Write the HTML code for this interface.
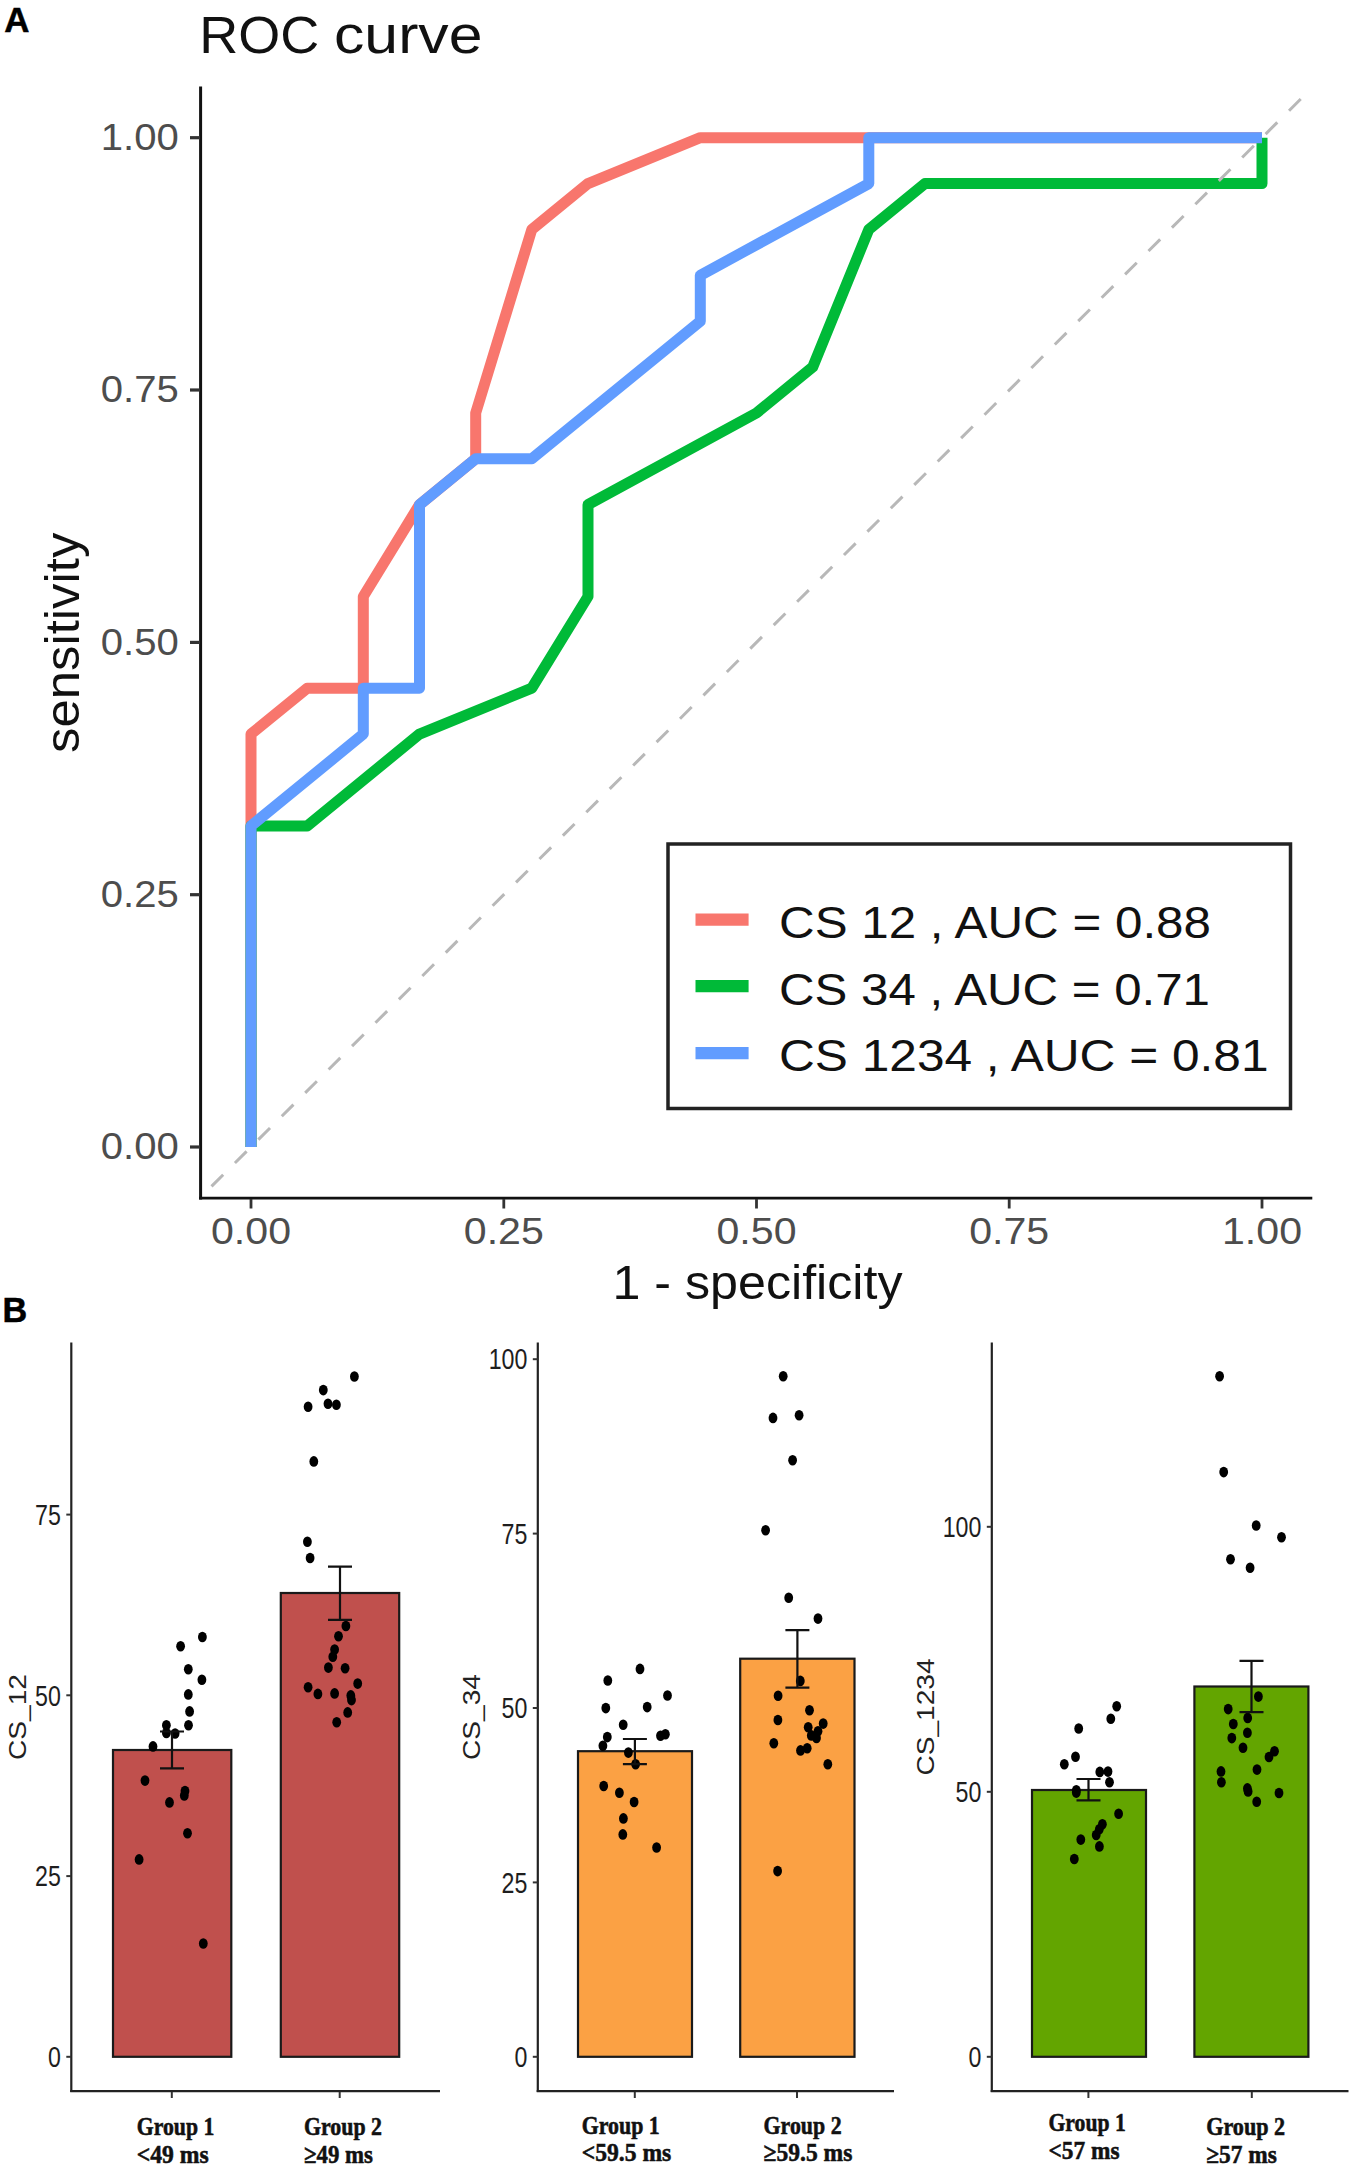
<!DOCTYPE html><html><head><meta charset="utf-8"><style>html,body{margin:0;padding:0;background:#fff;font-family:"Liberation Sans", sans-serif;overflow:hidden;}svg{display:block;}</style></head><body>
<svg width="1360" height="2169" viewBox="0 0 1360 2169">
<rect x="0" y="0" width="1360" height="2169" fill="#fff"/>
<text x="4.3" y="32.3" font-family="Liberation Sans, sans-serif" font-weight="bold" font-size="35" stroke="#000" stroke-width="0.5" textLength="25.2" lengthAdjust="spacingAndGlyphs">A</text>
<text x="199.3" y="53.3" font-family="Liberation Sans, sans-serif" font-size="51" fill="#111" textLength="120" lengthAdjust="spacingAndGlyphs">ROC</text>
<text x="334" y="53.3" font-family="Liberation Sans, sans-serif" font-size="51" fill="#111" textLength="148.5" lengthAdjust="spacingAndGlyphs">curve</text>
<path d="M251.0,1147.0 L251.0,825.9 L251.0,734.1 L307.2,688.2 L363.3,688.2 L363.3,596.5 L419.5,504.7 L475.7,458.8 L475.7,413.0 L531.8,229.5 L588.0,183.6 L700.3,137.7 L1262.0,137.7" fill="none" stroke="#F8766D" stroke-width="11" stroke-linejoin="round" stroke-linecap="butt"/>
<path d="M251.0,1147.0 L251.0,825.9 L307.2,825.9 L419.5,734.1 L531.8,688.2 L588.0,596.5 L588.0,504.7 L756.5,413.0 L812.7,367.1 L868.8,229.5 L925.0,183.6 L1262.0,183.6 L1262.0,137.7" fill="none" stroke="#00BA38" stroke-width="11" stroke-linejoin="round" stroke-linecap="butt"/>
<path d="M251.0,1147.0 L251.0,825.9 L363.3,734.1 L363.3,688.2 L419.5,688.2 L419.5,504.7 L475.7,458.8 L531.8,458.8 L700.3,321.2 L700.3,275.3 L868.8,183.6 L868.8,137.7 L1262.0,137.7" fill="none" stroke="#619CFF" stroke-width="11" stroke-linejoin="round" stroke-linecap="butt"/>
<line x1="211.5" y1="1186.43" x2="1310" y2="89.78" stroke="#b8b8b8" stroke-width="3" stroke-dasharray="16.5 16.6"/>
<line x1="200.6" y1="86.5" x2="200.6" y2="1199.6" stroke="#111" stroke-width="3"/>
<line x1="199.1" y1="1198.2" x2="1312.3" y2="1198.2" stroke="#111" stroke-width="2.8"/>
<line x1="190" y1="137.7" x2="200" y2="137.7" stroke="#333" stroke-width="3.2"/>
<text x="178.8" y="150.0" font-family="Liberation Sans, sans-serif" font-size="36.5" fill="#4d4d4d" text-anchor="end" textLength="78" lengthAdjust="spacingAndGlyphs">1.00</text>
<line x1="190" y1="390.0" x2="200" y2="390.0" stroke="#333" stroke-width="3.2"/>
<text x="178.8" y="402.3" font-family="Liberation Sans, sans-serif" font-size="36.5" fill="#4d4d4d" text-anchor="end" textLength="78" lengthAdjust="spacingAndGlyphs">0.75</text>
<line x1="190" y1="642.4" x2="200" y2="642.4" stroke="#333" stroke-width="3.2"/>
<text x="178.8" y="654.6" font-family="Liberation Sans, sans-serif" font-size="36.5" fill="#4d4d4d" text-anchor="end" textLength="78" lengthAdjust="spacingAndGlyphs">0.50</text>
<line x1="190" y1="894.7" x2="200" y2="894.7" stroke="#333" stroke-width="3.2"/>
<text x="178.8" y="907.0" font-family="Liberation Sans, sans-serif" font-size="36.5" fill="#4d4d4d" text-anchor="end" textLength="78" lengthAdjust="spacingAndGlyphs">0.25</text>
<line x1="190" y1="1147.0" x2="200" y2="1147.0" stroke="#333" stroke-width="3.2"/>
<text x="178.8" y="1159.3" font-family="Liberation Sans, sans-serif" font-size="36.5" fill="#4d4d4d" text-anchor="end" textLength="78" lengthAdjust="spacingAndGlyphs">0.00</text>
<line x1="251.0" y1="1199" x2="251.0" y2="1208.5" stroke="#333" stroke-width="2.8"/>
<text x="211.0" y="1243.6" font-family="Liberation Sans, sans-serif" font-size="36.5" fill="#4d4d4d" textLength="80" lengthAdjust="spacingAndGlyphs">0.00</text>
<line x1="503.8" y1="1199" x2="503.8" y2="1208.5" stroke="#333" stroke-width="2.8"/>
<text x="463.8" y="1243.6" font-family="Liberation Sans, sans-serif" font-size="36.5" fill="#4d4d4d" textLength="80" lengthAdjust="spacingAndGlyphs">0.25</text>
<line x1="756.5" y1="1199" x2="756.5" y2="1208.5" stroke="#333" stroke-width="2.8"/>
<text x="716.5" y="1243.6" font-family="Liberation Sans, sans-serif" font-size="36.5" fill="#4d4d4d" textLength="80" lengthAdjust="spacingAndGlyphs">0.50</text>
<line x1="1009.2" y1="1199" x2="1009.2" y2="1208.5" stroke="#333" stroke-width="2.8"/>
<text x="969.2" y="1243.6" font-family="Liberation Sans, sans-serif" font-size="36.5" fill="#4d4d4d" textLength="80" lengthAdjust="spacingAndGlyphs">0.75</text>
<line x1="1262.0" y1="1199" x2="1262.0" y2="1208.5" stroke="#333" stroke-width="2.8"/>
<text x="1222.0" y="1243.6" font-family="Liberation Sans, sans-serif" font-size="36.5" fill="#4d4d4d" textLength="80" lengthAdjust="spacingAndGlyphs">1.00</text>
<text x="612.5" y="1299" font-family="Liberation Sans, sans-serif" font-size="49" fill="#111" textLength="290" lengthAdjust="spacingAndGlyphs">1 - specificity</text>
<text transform="translate(78.5,752.9) rotate(-90)" x="0" y="0" font-family="Liberation Sans, sans-serif" font-size="49" fill="#111" textLength="220.2" lengthAdjust="spacingAndGlyphs">sensitivity</text>
<rect x="668" y="844" width="622.5" height="264.5" fill="#fff" stroke="#222" stroke-width="3.5"/>
<line x1="695.5" y1="919.6" x2="748.6" y2="919.6" stroke="#F8766D" stroke-width="12.2"/>
<text x="779" y="938.2" font-family="Liberation Sans, sans-serif" font-size="44" fill="#111" textLength="432" lengthAdjust="spacingAndGlyphs">CS 12 , AUC = 0.88</text>
<line x1="695.5" y1="986.2" x2="748.6" y2="986.2" stroke="#00BA38" stroke-width="12.2"/>
<text x="779" y="1004.8" font-family="Liberation Sans, sans-serif" font-size="44" fill="#111" textLength="431" lengthAdjust="spacingAndGlyphs">CS 34 , AUC = 0.71</text>
<line x1="695.5" y1="1053.1" x2="748.6" y2="1053.1" stroke="#619CFF" stroke-width="12.2"/>
<text x="779" y="1071.2" font-family="Liberation Sans, sans-serif" font-size="44" fill="#111" textLength="489.5" lengthAdjust="spacingAndGlyphs">CS 1234 , AUC = 0.81</text>
<text x="2.6" y="1322.2" font-family="Liberation Sans, sans-serif" font-weight="bold" font-size="34.2" stroke="#000" stroke-width="0.5">B</text>
<line x1="71.3" y1="1342.5" x2="71.3" y2="2092" stroke="#222" stroke-width="2.2"/>
<line x1="70.2" y1="2091.2" x2="440" y2="2091.2" stroke="#222" stroke-width="2.2"/>
<line x1="66.3" y1="2056.8" x2="71.3" y2="2056.8" stroke="#333" stroke-width="2"/>
<text x="60.9" y="2067.0" font-family="Liberation Sans, sans-serif" font-size="29" fill="#1e1e1e" text-anchor="end" textLength="12.9" lengthAdjust="spacingAndGlyphs">0</text>
<line x1="66.3" y1="1876.1" x2="71.3" y2="1876.1" stroke="#333" stroke-width="2"/>
<text x="60.9" y="1886.3" font-family="Liberation Sans, sans-serif" font-size="29" fill="#1e1e1e" text-anchor="end" textLength="25.8" lengthAdjust="spacingAndGlyphs">25</text>
<line x1="66.3" y1="1695.3" x2="71.3" y2="1695.3" stroke="#333" stroke-width="2"/>
<text x="60.9" y="1705.5" font-family="Liberation Sans, sans-serif" font-size="29" fill="#1e1e1e" text-anchor="end" textLength="25.8" lengthAdjust="spacingAndGlyphs">50</text>
<line x1="66.3" y1="1514.6" x2="71.3" y2="1514.6" stroke="#333" stroke-width="2"/>
<text x="60.9" y="1524.8" font-family="Liberation Sans, sans-serif" font-size="29" fill="#1e1e1e" text-anchor="end" textLength="25.8" lengthAdjust="spacingAndGlyphs">75</text>
<text transform="translate(26.4,1717) scale(0.83,1) rotate(-90)" x="0" y="0" font-family="Liberation Sans, sans-serif" font-size="28.1" fill="#222" text-anchor="middle">CS_12</text>
<rect x="113" y="1750" width="118.30000000000001" height="306.8000000000002" fill="#C0504D" stroke="#1a1a1a" stroke-width="2.2"/>
<rect x="280.8" y="1593" width="118.39999999999998" height="463.8000000000002" fill="#C0504D" stroke="#1a1a1a" stroke-width="2.2"/>
<ellipse cx="202.4" cy="1637" rx="4.4" ry="5.3" fill="#000"/>
<ellipse cx="180.6" cy="1646.2" rx="4.4" ry="5.3" fill="#000"/>
<ellipse cx="188.3" cy="1669.2" rx="4.4" ry="5.3" fill="#000"/>
<ellipse cx="201.9" cy="1679.8" rx="4.4" ry="5.3" fill="#000"/>
<ellipse cx="188.3" cy="1694.4" rx="4.4" ry="5.3" fill="#000"/>
<ellipse cx="189.6" cy="1711.4" rx="4.4" ry="5.3" fill="#000"/>
<ellipse cx="188.5" cy="1725.3" rx="4.4" ry="5.3" fill="#000"/>
<ellipse cx="166.4" cy="1725.3" rx="4.4" ry="5.3" fill="#000"/>
<ellipse cx="166.4" cy="1733" rx="4.4" ry="5.3" fill="#000"/>
<ellipse cx="175.1" cy="1733.5" rx="4.4" ry="5.3" fill="#000"/>
<ellipse cx="153" cy="1746.4" rx="4.4" ry="5.3" fill="#000"/>
<ellipse cx="145" cy="1780.6" rx="4.4" ry="5.3" fill="#000"/>
<ellipse cx="185" cy="1791" rx="4.4" ry="5.3" fill="#000"/>
<ellipse cx="184.3" cy="1795.5" rx="4.4" ry="5.3" fill="#000"/>
<ellipse cx="169.5" cy="1802.4" rx="4.4" ry="5.3" fill="#000"/>
<ellipse cx="187.5" cy="1833.3" rx="4.4" ry="5.3" fill="#000"/>
<ellipse cx="139.1" cy="1859.4" rx="4.4" ry="5.3" fill="#000"/>
<ellipse cx="203.3" cy="1943.5" rx="4.4" ry="5.3" fill="#000"/>
<ellipse cx="354.4" cy="1376.5" rx="4.4" ry="5.3" fill="#000"/>
<ellipse cx="323.3" cy="1390.1" rx="4.4" ry="5.3" fill="#000"/>
<ellipse cx="308.1" cy="1406.8" rx="4.4" ry="5.3" fill="#000"/>
<ellipse cx="328" cy="1403.8" rx="4.4" ry="5.3" fill="#000"/>
<ellipse cx="336.4" cy="1404.8" rx="4.4" ry="5.3" fill="#000"/>
<ellipse cx="313.8" cy="1461.4" rx="4.4" ry="5.3" fill="#000"/>
<ellipse cx="307.4" cy="1541.7" rx="4.4" ry="5.3" fill="#000"/>
<ellipse cx="310.1" cy="1558" rx="4.4" ry="5.3" fill="#000"/>
<ellipse cx="345.9" cy="1626" rx="4.4" ry="5.3" fill="#000"/>
<ellipse cx="338.5" cy="1636.3" rx="4.4" ry="5.3" fill="#000"/>
<ellipse cx="334.6" cy="1649.6" rx="4.4" ry="5.3" fill="#000"/>
<ellipse cx="332.8" cy="1656.8" rx="4.4" ry="5.3" fill="#000"/>
<ellipse cx="328.4" cy="1667.6" rx="4.4" ry="5.3" fill="#000"/>
<ellipse cx="345.1" cy="1668.2" rx="4.4" ry="5.3" fill="#000"/>
<ellipse cx="357.7" cy="1683.6" rx="4.4" ry="5.3" fill="#000"/>
<ellipse cx="308.1" cy="1687.2" rx="4.4" ry="5.3" fill="#000"/>
<ellipse cx="317.9" cy="1693.9" rx="4.4" ry="5.3" fill="#000"/>
<ellipse cx="334.6" cy="1693.4" rx="4.4" ry="5.3" fill="#000"/>
<ellipse cx="350.8" cy="1695.4" rx="4.4" ry="5.3" fill="#000"/>
<ellipse cx="351.5" cy="1700.1" rx="4.4" ry="5.3" fill="#000"/>
<ellipse cx="347.7" cy="1712.4" rx="4.4" ry="5.3" fill="#000"/>
<ellipse cx="336.7" cy="1722.2" rx="4.4" ry="5.3" fill="#000"/>
<path d="M160,1731.5 H184 M172,1731.5 V1768.3 M160,1768.3 H184" stroke="#111" stroke-width="2.2" fill="none"/>
<path d="M328,1566.6 H352 M340,1566.6 V1619.8 M328,1619.8 H352" stroke="#111" stroke-width="2.2" fill="none"/>
<line x1="171.8" y1="2092" x2="171.8" y2="2098" stroke="#333" stroke-width="2"/>
<text x="136.8" y="2135.1" font-family="Liberation Serif, serif" font-weight="bold" font-size="25.5" fill="#111" stroke="#111" stroke-width="0.55" textLength="77.5" lengthAdjust="spacingAndGlyphs">Group 1</text>
<text x="136.8" y="2163.3" font-family="Liberation Serif, serif" font-weight="bold" font-size="25.5" fill="#111" stroke="#111" stroke-width="0.55" textLength="72" lengthAdjust="spacingAndGlyphs">&lt;49 ms</text>
<line x1="339.7" y1="2092" x2="339.7" y2="2098" stroke="#333" stroke-width="2"/>
<text x="304" y="2135.2" font-family="Liberation Serif, serif" font-weight="bold" font-size="25.5" fill="#111" stroke="#111" stroke-width="0.55" textLength="78" lengthAdjust="spacingAndGlyphs">Group 2</text>
<text x="304" y="2162.8" font-family="Liberation Serif, serif" font-weight="bold" font-size="25.5" fill="#111" stroke="#111" stroke-width="0.55" textLength="69" lengthAdjust="spacingAndGlyphs">≥49 ms</text>
<line x1="537.8" y1="1342.5" x2="537.8" y2="2092" stroke="#222" stroke-width="2.2"/>
<line x1="536.6999999999999" y1="2091.2" x2="894" y2="2091.2" stroke="#222" stroke-width="2.2"/>
<line x1="532.8" y1="2056.8" x2="537.8" y2="2056.8" stroke="#333" stroke-width="2"/>
<text x="527.4" y="2067.0" font-family="Liberation Sans, sans-serif" font-size="29" fill="#1e1e1e" text-anchor="end" textLength="12.9" lengthAdjust="spacingAndGlyphs">0</text>
<line x1="532.8" y1="1882.4" x2="537.8" y2="1882.4" stroke="#333" stroke-width="2"/>
<text x="527.4" y="1892.6" font-family="Liberation Sans, sans-serif" font-size="29" fill="#1e1e1e" text-anchor="end" textLength="25.8" lengthAdjust="spacingAndGlyphs">25</text>
<line x1="532.8" y1="1708.0" x2="537.8" y2="1708.0" stroke="#333" stroke-width="2"/>
<text x="527.4" y="1718.2" font-family="Liberation Sans, sans-serif" font-size="29" fill="#1e1e1e" text-anchor="end" textLength="25.8" lengthAdjust="spacingAndGlyphs">50</text>
<line x1="532.8" y1="1533.6" x2="537.8" y2="1533.6" stroke="#333" stroke-width="2"/>
<text x="527.4" y="1543.8" font-family="Liberation Sans, sans-serif" font-size="29" fill="#1e1e1e" text-anchor="end" textLength="25.8" lengthAdjust="spacingAndGlyphs">75</text>
<line x1="532.8" y1="1359.2" x2="537.8" y2="1359.2" stroke="#333" stroke-width="2"/>
<text x="527.4" y="1369.4" font-family="Liberation Sans, sans-serif" font-size="29" fill="#1e1e1e" text-anchor="end" textLength="38.7" lengthAdjust="spacingAndGlyphs">100</text>
<text transform="translate(479.5,1717) scale(0.83,1) rotate(-90)" x="0" y="0" font-family="Liberation Sans, sans-serif" font-size="28.1" fill="#222" text-anchor="middle">CS_34</text>
<rect x="578" y="1751.2" width="114" height="305.60000000000014" fill="#FBA144" stroke="#1a1a1a" stroke-width="2.2"/>
<rect x="740.2" y="1658.7" width="114.29999999999995" height="398.10000000000014" fill="#FBA144" stroke="#1a1a1a" stroke-width="2.2"/>
<ellipse cx="640" cy="1668.9" rx="4.4" ry="5.3" fill="#000"/>
<ellipse cx="607.8" cy="1680.5" rx="4.4" ry="5.3" fill="#000"/>
<ellipse cx="667.5" cy="1695.5" rx="4.4" ry="5.3" fill="#000"/>
<ellipse cx="605.8" cy="1708.1" rx="4.4" ry="5.3" fill="#000"/>
<ellipse cx="647.2" cy="1707.1" rx="4.4" ry="5.3" fill="#000"/>
<ellipse cx="623.2" cy="1724.7" rx="4.4" ry="5.3" fill="#000"/>
<ellipse cx="607.3" cy="1737.1" rx="4.4" ry="5.3" fill="#000"/>
<ellipse cx="602.9" cy="1745.8" rx="4.4" ry="5.3" fill="#000"/>
<ellipse cx="660.5" cy="1735.7" rx="4.4" ry="5.3" fill="#000"/>
<ellipse cx="665.4" cy="1734.2" rx="4.4" ry="5.3" fill="#000"/>
<ellipse cx="628.4" cy="1752.6" rx="4.4" ry="5.3" fill="#000"/>
<ellipse cx="635.6" cy="1764.2" rx="4.4" ry="5.3" fill="#000"/>
<ellipse cx="603.7" cy="1786" rx="4.4" ry="5.3" fill="#000"/>
<ellipse cx="619.4" cy="1792.8" rx="4.4" ry="5.3" fill="#000"/>
<ellipse cx="634.1" cy="1802" rx="4.4" ry="5.3" fill="#000"/>
<ellipse cx="623.4" cy="1818.4" rx="4.4" ry="5.3" fill="#000"/>
<ellipse cx="622.8" cy="1834.4" rx="4.4" ry="5.3" fill="#000"/>
<ellipse cx="656.6" cy="1847.5" rx="4.4" ry="5.3" fill="#000"/>
<ellipse cx="783.2" cy="1376.3" rx="4.4" ry="5.3" fill="#000"/>
<ellipse cx="773" cy="1417.9" rx="4.4" ry="5.3" fill="#000"/>
<ellipse cx="799.1" cy="1415.2" rx="4.4" ry="5.3" fill="#000"/>
<ellipse cx="792.6" cy="1460.2" rx="4.4" ry="5.3" fill="#000"/>
<ellipse cx="765.6" cy="1530.2" rx="4.4" ry="5.3" fill="#000"/>
<ellipse cx="788.7" cy="1597.7" rx="4.4" ry="5.3" fill="#000"/>
<ellipse cx="818" cy="1618.6" rx="4.4" ry="5.3" fill="#000"/>
<ellipse cx="800.3" cy="1680.9" rx="4.4" ry="5.3" fill="#000"/>
<ellipse cx="778.1" cy="1695.8" rx="4.4" ry="5.3" fill="#000"/>
<ellipse cx="809.5" cy="1710.2" rx="4.4" ry="5.3" fill="#000"/>
<ellipse cx="777.9" cy="1720" rx="4.4" ry="5.3" fill="#000"/>
<ellipse cx="823.2" cy="1723.6" rx="4.4" ry="5.3" fill="#000"/>
<ellipse cx="808.2" cy="1727.2" rx="4.4" ry="5.3" fill="#000"/>
<ellipse cx="818" cy="1731.3" rx="4.4" ry="5.3" fill="#000"/>
<ellipse cx="811.3" cy="1735.4" rx="4.4" ry="5.3" fill="#000"/>
<ellipse cx="816.5" cy="1738" rx="4.4" ry="5.3" fill="#000"/>
<ellipse cx="773.8" cy="1743.2" rx="4.4" ry="5.3" fill="#000"/>
<ellipse cx="800.5" cy="1750.4" rx="4.4" ry="5.3" fill="#000"/>
<ellipse cx="807.2" cy="1748.3" rx="4.4" ry="5.3" fill="#000"/>
<ellipse cx="827.8" cy="1764.3" rx="4.4" ry="5.3" fill="#000"/>
<ellipse cx="777.6" cy="1871.1" rx="4.4" ry="5.3" fill="#000"/>
<path d="M622.9,1739 H646.9 M634.9,1739 V1764.2 M622.9,1764.2 H646.9" stroke="#111" stroke-width="2.2" fill="none"/>
<path d="M785.4,1630.2 H809.4 M797.4,1630.2 V1687.7 M785.4,1687.7 H809.4" stroke="#111" stroke-width="2.2" fill="none"/>
<line x1="634.8" y1="2092" x2="634.8" y2="2098" stroke="#333" stroke-width="2"/>
<text x="581.8" y="2133.5" font-family="Liberation Serif, serif" font-weight="bold" font-size="25.5" fill="#111" stroke="#111" stroke-width="0.55" textLength="78" lengthAdjust="spacingAndGlyphs">Group 1</text>
<text x="581.8" y="2160.8" font-family="Liberation Serif, serif" font-weight="bold" font-size="25.5" fill="#111" stroke="#111" stroke-width="0.55" textLength="89.5" lengthAdjust="spacingAndGlyphs">&lt;59.5 ms</text>
<line x1="797" y1="2092" x2="797" y2="2098" stroke="#333" stroke-width="2"/>
<text x="763.6" y="2133.7" font-family="Liberation Serif, serif" font-weight="bold" font-size="25.5" fill="#111" stroke="#111" stroke-width="0.55" textLength="78" lengthAdjust="spacingAndGlyphs">Group 2</text>
<text x="763.6" y="2161" font-family="Liberation Serif, serif" font-weight="bold" font-size="25.5" fill="#111" stroke="#111" stroke-width="0.55" textLength="88.8" lengthAdjust="spacingAndGlyphs">≥59.5 ms</text>
<line x1="991.8" y1="1342.5" x2="991.8" y2="2092" stroke="#222" stroke-width="2.2"/>
<line x1="990.6999999999999" y1="2091.2" x2="1348.5" y2="2091.2" stroke="#222" stroke-width="2.2"/>
<line x1="986.8" y1="2056.8" x2="991.8" y2="2056.8" stroke="#333" stroke-width="2"/>
<text x="981.4" y="2067.0" font-family="Liberation Sans, sans-serif" font-size="29" fill="#1e1e1e" text-anchor="end" textLength="12.9" lengthAdjust="spacingAndGlyphs">0</text>
<line x1="986.8" y1="1791.8" x2="991.8" y2="1791.8" stroke="#333" stroke-width="2"/>
<text x="981.4" y="1802.0" font-family="Liberation Sans, sans-serif" font-size="29" fill="#1e1e1e" text-anchor="end" textLength="25.8" lengthAdjust="spacingAndGlyphs">50</text>
<line x1="986.8" y1="1526.8" x2="991.8" y2="1526.8" stroke="#333" stroke-width="2"/>
<text x="981.4" y="1537.0" font-family="Liberation Sans, sans-serif" font-size="29" fill="#1e1e1e" text-anchor="end" textLength="38.7" lengthAdjust="spacingAndGlyphs">100</text>
<text transform="translate(934.3,1717) scale(0.83,1) rotate(-90)" x="0" y="0" font-family="Liberation Sans, sans-serif" font-size="28.1" fill="#222" text-anchor="middle">CS_1234</text>
<rect x="1032" y="1790" width="114" height="266.8000000000002" fill="#63A500" stroke="#1a1a1a" stroke-width="2.2"/>
<rect x="1194.4" y="1686.5" width="114.0" height="370.3000000000002" fill="#63A500" stroke="#1a1a1a" stroke-width="2.2"/>
<ellipse cx="1116.7" cy="1706.2" rx="4.4" ry="5.3" fill="#000"/>
<ellipse cx="1110.8" cy="1718.8" rx="4.4" ry="5.3" fill="#000"/>
<ellipse cx="1078.7" cy="1728.5" rx="4.4" ry="5.3" fill="#000"/>
<ellipse cx="1075.5" cy="1756.7" rx="4.4" ry="5.3" fill="#000"/>
<ellipse cx="1064.3" cy="1764.2" rx="4.4" ry="5.3" fill="#000"/>
<ellipse cx="1099.8" cy="1771.9" rx="4.4" ry="5.3" fill="#000"/>
<ellipse cx="1108" cy="1771.6" rx="4.4" ry="5.3" fill="#000"/>
<ellipse cx="1109.5" cy="1782.3" rx="4.4" ry="5.3" fill="#000"/>
<ellipse cx="1076.3" cy="1790.2" rx="4.4" ry="5.3" fill="#000"/>
<ellipse cx="1076.3" cy="1792.6" rx="4.4" ry="5.3" fill="#000"/>
<ellipse cx="1118.6" cy="1813.7" rx="4.4" ry="5.3" fill="#000"/>
<ellipse cx="1102.4" cy="1824.3" rx="4.4" ry="5.3" fill="#000"/>
<ellipse cx="1099.3" cy="1829.3" rx="4.4" ry="5.3" fill="#000"/>
<ellipse cx="1096.2" cy="1835" rx="4.4" ry="5.3" fill="#000"/>
<ellipse cx="1080.8" cy="1839.6" rx="4.4" ry="5.3" fill="#000"/>
<ellipse cx="1099.4" cy="1846.4" rx="4.4" ry="5.3" fill="#000"/>
<ellipse cx="1074.3" cy="1859" rx="4.4" ry="5.3" fill="#000"/>
<ellipse cx="1219.6" cy="1376.3" rx="4.4" ry="5.3" fill="#000"/>
<ellipse cx="1223.7" cy="1472.1" rx="4.4" ry="5.3" fill="#000"/>
<ellipse cx="1256.2" cy="1525.5" rx="4.4" ry="5.3" fill="#000"/>
<ellipse cx="1281.5" cy="1537.3" rx="4.4" ry="5.3" fill="#000"/>
<ellipse cx="1230.5" cy="1559.3" rx="4.4" ry="5.3" fill="#000"/>
<ellipse cx="1250.1" cy="1567.8" rx="4.4" ry="5.3" fill="#000"/>
<ellipse cx="1258.4" cy="1696.6" rx="4.4" ry="5.3" fill="#000"/>
<ellipse cx="1228.2" cy="1709.1" rx="4.4" ry="5.3" fill="#000"/>
<ellipse cx="1247.7" cy="1717.9" rx="4.4" ry="5.3" fill="#000"/>
<ellipse cx="1233.3" cy="1724" rx="4.4" ry="5.3" fill="#000"/>
<ellipse cx="1247.4" cy="1732.8" rx="4.4" ry="5.3" fill="#000"/>
<ellipse cx="1231.8" cy="1738.1" rx="4.4" ry="5.3" fill="#000"/>
<ellipse cx="1243" cy="1747.7" rx="4.4" ry="5.3" fill="#000"/>
<ellipse cx="1274.5" cy="1751.3" rx="4.4" ry="5.3" fill="#000"/>
<ellipse cx="1269" cy="1757" rx="4.4" ry="5.3" fill="#000"/>
<ellipse cx="1221" cy="1771.4" rx="4.4" ry="5.3" fill="#000"/>
<ellipse cx="1257" cy="1769.6" rx="4.4" ry="5.3" fill="#000"/>
<ellipse cx="1221.4" cy="1782.2" rx="4.4" ry="5.3" fill="#000"/>
<ellipse cx="1247.4" cy="1788.4" rx="4.4" ry="5.3" fill="#000"/>
<ellipse cx="1248.1" cy="1791.5" rx="4.4" ry="5.3" fill="#000"/>
<ellipse cx="1279" cy="1793" rx="4.4" ry="5.3" fill="#000"/>
<ellipse cx="1256.7" cy="1801.8" rx="4.4" ry="5.3" fill="#000"/>
<path d="M1076.5,1779 H1100.5 M1088.5,1779 V1800.4 M1076.5,1800.4 H1100.5" stroke="#111" stroke-width="2.2" fill="none"/>
<path d="M1239.5,1660.8 H1263.5 M1251.5,1660.8 V1712.2 M1239.5,1712.2 H1263.5" stroke="#111" stroke-width="2.2" fill="none"/>
<line x1="1088.4" y1="2092" x2="1088.4" y2="2098" stroke="#333" stroke-width="2"/>
<text x="1048.5" y="2131.3" font-family="Liberation Serif, serif" font-weight="bold" font-size="25.5" fill="#111" stroke="#111" stroke-width="0.55" textLength="77.3" lengthAdjust="spacingAndGlyphs">Group 1</text>
<text x="1048.5" y="2159.3" font-family="Liberation Serif, serif" font-weight="bold" font-size="25.5" fill="#111" stroke="#111" stroke-width="0.55" textLength="71" lengthAdjust="spacingAndGlyphs">&lt;57 ms</text>
<line x1="1251.8" y1="2092" x2="1251.8" y2="2098" stroke="#333" stroke-width="2"/>
<text x="1206.2" y="2135" font-family="Liberation Serif, serif" font-weight="bold" font-size="25.5" fill="#111" stroke="#111" stroke-width="0.55" textLength="79" lengthAdjust="spacingAndGlyphs">Group 2</text>
<text x="1206.2" y="2162.9" font-family="Liberation Serif, serif" font-weight="bold" font-size="25.5" fill="#111" stroke="#111" stroke-width="0.55" textLength="70.6" lengthAdjust="spacingAndGlyphs">≥57 ms</text>
</svg></body></html>
